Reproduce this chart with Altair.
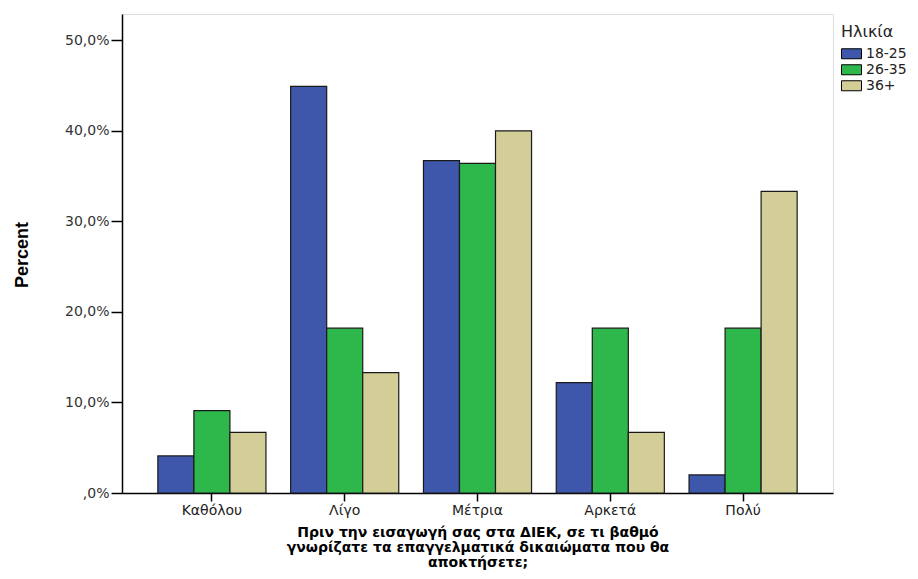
import altair as alt
import pandas as pd

categories = ["Καθόλου", "Λίγο", "Μέτρια", "Αρκετά", "Πολύ"]
groups = ["18-25", "26-35", "36+"]
pct_18_25 = [4.1, 44.9, 36.7, 12.2, 2.0]
pct_26_35 = [9.1, 18.2, 36.4, 18.2, 18.2]
pct_36_plus = [6.7, 13.3, 40.0, 6.7, 33.3]
colors = ["#3e57ab", "#2eb84b", "#d3ce98"]
y_ticks = [0, 10, 20, 30, 40, 50]
x_title = ["Πριν την εισαγωγή σας στα ΔΙΕΚ, σε τι βαθμό",
           "γνωρίζατε τα επαγγελματικά δικαιώματα που θα",
           "αποκτήσετε;"]

rows = []
for g, vals in zip(groups, [pct_18_25, pct_26_35, pct_36_plus]):
    for c, v in zip(categories, vals):
        rows.append({"cat": c, "age": g, "pct": v})
df = pd.DataFrame(rows)

FONT = "DejaVu Sans"

chart = alt.Chart(df).mark_bar(stroke="#1a1a1a", strokeWidth=1.2).encode(
    x=alt.X("cat:N", sort=categories,
            scale=alt.Scale(paddingInner=0.186, paddingOuter=0.27),
            axis=alt.Axis(title=x_title, labelAngle=0, tickSize=8, tickColor="#000",
                          tickWidth=1.5, domainColor="#000", domainWidth=1.5,
                          labelPadding=2, labelFont=FONT, labelFontSize=14, labelColor="#222",
                          titleFont=FONT, titleFontSize=14, titleFontWeight="bold",
                          titleColor="#000", titleLineHeight=15,
                          titleBaseline="alphabetic", titleAlign="center",
                          titleX=355.5, titleY=43)),
    xOffset=alt.XOffset("age:N", sort=groups,
                        scale=alt.Scale(paddingInner=0, paddingOuter=0)),
    y=alt.Y("pct:Q", scale=alt.Scale(domain=[0, 52.9], nice=False),
            axis=alt.Axis(title="Percent", values=y_ticks, grid=False,
                          labelExpr="datum.value == 0 ? ',0%' : replace(format(datum.value, '.1f'), '.', ',') + '%'",
                          tickSize=11, tickColor="#000", tickWidth=1.5,
                          domainColor="#000", domainWidth=1.5,
                          labelPadding=2, labelFont=FONT, labelFontSize=14, labelColor="#333",
                          titleFont="Liberation Sans", titleFontSize=18, titleFontWeight="bold",
                          titleColor="#000", titleAngle=270, titleAlign="center",
                          titleBaseline="middle", titleX=-100, titleY=240.5)),
    fill=alt.Fill("age:N", sort=groups,
                  scale=alt.Scale(domain=groups, range=colors),
                  legend=alt.Legend(title="Ηλικία", orient="none", legendX=719, legendY=10,
                                    padding=0, titleFont=FONT, titleFontSize=16,
                                    titleFontWeight="normal", titleColor="#222",
                                    titlePadding=6,
                                    symbolType="M-1,-0.5H1V0.5H-1Z", symbolSize=400,
                                    symbolStrokeColor="#000", symbolStrokeWidth=1,
                                    symbolOpacity=1,
                                    labelFont=FONT, labelFontSize=14, labelColor="#222",
                                    labelOffset=4, rowPadding=0, clipHeight=15.5)),
).properties(
    width=711, height=479,
    autosize=alt.AutoSizeParams(type="none"),
    padding={"left": 114, "top": 6, "right": 77, "bottom": 78},
).configure_view(
    fill="#f0f0f0", stroke="#333", strokeWidth=1.5
).configure(background="#ffffff")

chart.save("out.html", embed_options={"renderer": "svg", "actions": False})
